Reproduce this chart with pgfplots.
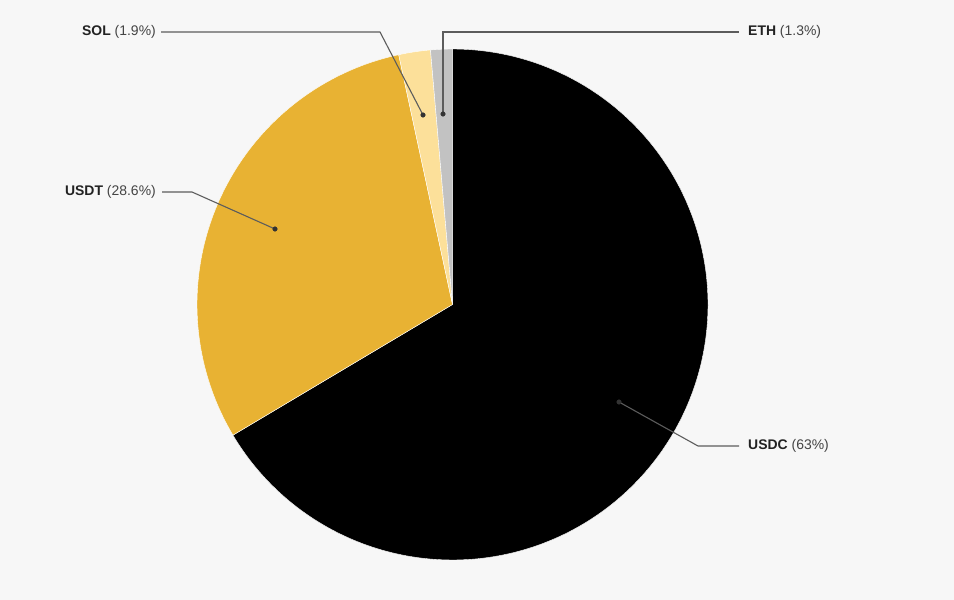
\documentclass[border=0pt]{standalone}
\usepackage{pgfplots}
\pgfplotsset{compat=1.18}
\usepackage{fontspec}
\setmainfont{Liberation Sans}
\definecolor{bg}{HTML}{F7F7F7}
\definecolor{cUSDC}{HTML}{000000}
\definecolor{cUSDT}{HTML}{E8B233}
\definecolor{cSOL}{HTML}{FCE09A}
\definecolor{cETH}{HTML}{C2C2C2}
\definecolor{lead}{HTML}{5C5C5C}
\definecolor{dotc}{HTML}{333333}
\definecolor{lab}{HTML}{222222}
\definecolor{labr}{HTML}{444444}
\begin{document}
\begin{tikzpicture}
% slice values (percent)
\def\vA{63}\def\vB{28.6}\def\vC{1.9}\def\vD{1.3}
\pgfmathsetmacro\tot{\vA+\vB+\vC+\vD}
\pgfmathsetmacro\aA{90-(\vA/\tot)*360}
\pgfmathsetmacro\aB{\aA-(\vB/\tot)*360}
\pgfmathsetmacro\aC{\aB-(\vC/\tot)*360}
\pgfmathsetmacro\aD{\aC-(\vD/\tot)*360}
\def\cx{452.5}\def\cy{304.5}\def\R{255.5}
\begin{axis}[
  width=954bp, height=600bp, scale only axis,
  xmin=0, xmax=954, ymin=0, ymax=600, y dir=reverse,
  axis lines=none, clip=false, ticks=none,
]
\path[fill=bg] (axis cs:0,0) rectangle (axis cs:954,600);
\addplot[fill=cUSDC, draw=white, line width=0.4pt, domain=\aA:90, samples=200, variable=\t]
  ({\cx+\R*cos(\t)}, {\cy-\R*sin(\t)}) -- (axis cs:\cx,\cy) -- cycle;
\addplot[fill=cUSDT, draw=white, line width=0.4pt, domain=\aB:\aA, samples=100, variable=\t]
  ({\cx+\R*cos(\t)}, {\cy-\R*sin(\t)}) -- (axis cs:\cx,\cy) -- cycle;
\addplot[fill=cSOL, draw=white, line width=0.4pt, domain=\aC:\aB, samples=20, variable=\t]
  ({\cx+\R*cos(\t)}, {\cy-\R*sin(\t)}) -- (axis cs:\cx,\cy) -- cycle;
\addplot[fill=cETH, draw=white, line width=0.4pt, domain=\aD:\aC, samples=20, variable=\t]
  ({\cx+\R*cos(\t)}, {\cy-\R*sin(\t)}) -- (axis cs:\cx,\cy) -- cycle;
% leader lines
\addplot[lead, line width=1.1pt, no marks] coordinates {(423,115) (380,32) (161,32)};
\addplot[lead, line width=1.1pt, no marks] coordinates {(443,114) (443,32) (739,32)};
\addplot[lead, line width=1.1pt, no marks] coordinates {(275,229) (192,192) (162,192)};
\addplot[lead, line width=1.1pt, no marks] coordinates {(619,402) (698,446) (739,446)};
\addplot[only marks, mark=*, mark size=2.3pt, dotc, mark options={draw=dotc, fill=dotc}]
  coordinates {(423,115) (443,114) (275,229) (619,402)};
% labels
\node[anchor=east, inner sep=0pt, font=\fontsize{14}{16}\selectfont] at (axis cs:156,32) {\textcolor{lab}{\bfseries SOL} \textcolor{labr}{(1.9\%)}};
\node[anchor=east, inner sep=0pt, font=\fontsize{14}{16}\selectfont] at (axis cs:156,192) {\textcolor{lab}{\bfseries USDT} \textcolor{labr}{(28.6\%)}};
\node[anchor=west, inner sep=0pt, font=\fontsize{14}{16}\selectfont] at (axis cs:748,32) {\textcolor{lab}{\bfseries ETH} \textcolor{labr}{(1.3\%)}};
\node[anchor=west, inner sep=0pt, font=\fontsize{14}{16}\selectfont] at (axis cs:748,446) {\textcolor{lab}{\bfseries USDC} \textcolor{labr}{(63\%)}};
\end{axis}
\end{tikzpicture}
\end{document}
